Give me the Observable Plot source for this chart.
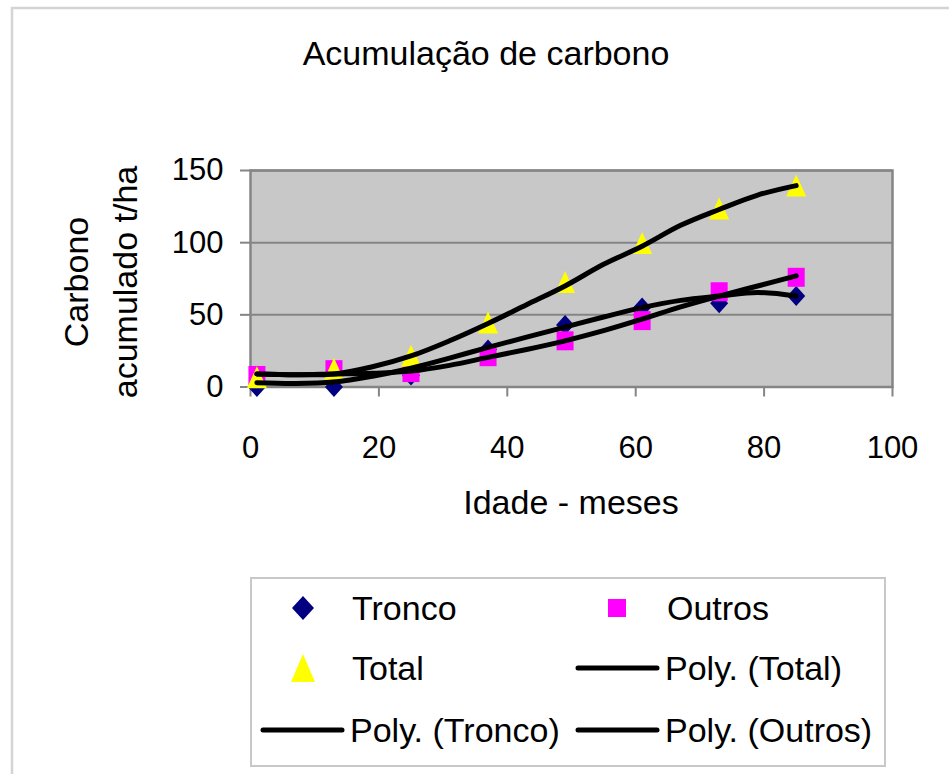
<!DOCTYPE html>
<html>
<head>
<meta charset="utf-8">
<script src="https://cdn.jsdelivr.net/npm/d3@7"></script>
<script src="https://cdn.jsdelivr.net/npm/@observablehq/plot@0.6"></script>
<style>
  html, body { margin: 0; padding: 0; background: #fff; }
  #wrap { position: relative; width: 949px; height: 774px; font-family: "Liberation Sans", Arial, sans-serif; }
  #wrap > svg { position: absolute; left: 0; top: 0; }
</style>
</head>
<body>
<div id="wrap"></div>
<script>
// ---- data ----
const meses = [1, 13, 25, 37, 49, 61, 73, 85];
const tronco = [0, 0, 8, 26, 43, 55, 58, 63];
const outros = [8, 12, 10, 21, 32, 46, 66, 76];
const total = [6, 12, 21, 44, 72, 99, 123, 139];

// trend lines
const mesesTend = [1, 7, 13, 19, 25, 31, 37, 43, 49, 55, 61, 67, 73, 79, 85];
const polyTotal = [9, 8.5, 9, 14, 21.5, 32, 44, 57, 70, 85, 97.5, 112, 123, 133, 139.5];
const polyTronco = [3, 2.5, 3.5, 7.5, 13, 20, 27.5, 34.5, 41.5, 48.5, 55, 60, 63, 65.5, 63];
const polyOutros = [9, 8.5, 9, 9.5, 11, 15, 20.5, 26, 32, 39, 47, 55.5, 63, 70, 77];

const xTicks = [0, 20, 40, 60, 80, 100];
const yTicks = [0, 50, 100, 150];

const titulo = "Acumulação de carbono";
const yLabel1 = "Carbono";
const yLabel2 = "acumulado t/ha";
const xLabel = "Idade - meses";
const legendLabels = ["Tronco", "Outros", "Total", "Poly. (Total)", "Poly. (Tronco)", "Poly. (Outros)"];

// ---- build tables ----
const pts = (vals, serie) => meses.map((m, i) => ({m, v: vals[i], serie}));
const trend = (vals, serie) => mesesTend.map((m, i) => ({m, v: vals[i], serie}));

// custom marker shapes (slightly taller than wide, like the reference)
const diamondSym = { draw(c) { c.moveTo(0, -10); c.lineTo(9, 0); c.lineTo(0, 10); c.lineTo(-9, 0); c.closePath(); } };
const squareSym = { draw(c) { c.moveTo(-8.5, -9.5); c.lineTo(8.5, -9.5); c.lineTo(8.5, 9.5); c.lineTo(-8.5, 9.5); c.closePath(); } };
const triSym = { draw(c) { c.moveTo(0, -12); c.lineTo(10, 10); c.lineTo(-10, 10); c.closePath(); } };

const font = "'Liberation Sans', Arial, sans-serif";

const chart = Plot.plot({
  width: 949,
  height: 774,
  marginLeft: 250,
  marginRight: 57,
  marginTop: 170,
  marginBottom: 387.5,
  style: { fontFamily: font, fontSize: "31px", background: "transparent", color: "black", overflow: "visible" },
  x: { domain: [0, 100] },
  y: { domain: [0, 150] },
  marks: [
    Plot.frame({ fill: "#c8c8c8" }),
    Plot.ruleY(yTicks, { stroke: "#858585", strokeWidth: 2 }),
    Plot.frame({ stroke: "#858585", strokeWidth: 2.5 }),
    Plot.axisX({ ticks: xTicks, tickSize: 10, tickPadding: 39, stroke: "#858585", strokeWidth: 2, fill: "black", label: null, tickFormat: d => String(d) }),
    Plot.axisY({ ticks: yTicks, tickSize: 10, tickPadding: 17, stroke: "#858585", strokeWidth: 2, fill: "black", label: null, tickFormat: d => String(d) }),
    Plot.dot(pts(tronco, "Tronco"), { x: "m", y: "v", symbol: () => diamondSym, r: 5, fill: "#000080", stroke: "none" }),
    Plot.dot(pts(outros, "Outros"), { x: "m", y: "v", symbol: () => squareSym, r: 5, fill: "#ff00ff", stroke: "none" }),
    Plot.dot(pts(total, "Total"), { x: "m", y: "v", symbol: () => triSym, r: 5, fill: "#ffff00", stroke: "none" }),
    Plot.line(trend(polyTotal, "Total"), { x: "m", y: "v", stroke: "black", strokeWidth: 5, curve: "catmull-rom" }),
    Plot.line(trend(polyTronco, "Tronco"), { x: "m", y: "v", stroke: "black", strokeWidth: 5, curve: "catmull-rom" }),
    Plot.line(trend(polyOutros, "Outros"), { x: "m", y: "v", stroke: "black", strokeWidth: 5, curve: "catmull-rom" })
  ]
});

const wrap = document.getElementById("wrap");

// background overlay (chart border) behind the plot
const bg = d3.create("svg").attr("width", 949).attr("height", 774);
bg.append("path").attr("d", "M12,774 V8 H949").attr("fill", "none").attr("stroke", "#d4d4d4").attr("stroke-width", 2.5);
wrap.appendChild(bg.node());
wrap.appendChild(chart);

// text + legend overlay
const ov = d3.create("svg").attr("width", 949).attr("height", 774)
  .style("font-family", font).style("pointer-events", "none");

ov.append("text").attr("x", 486).attr("y", 65).attr("text-anchor", "middle")
  .attr("font-size", 34).text(titulo);

ov.append("text").attr("transform", "translate(88,282) rotate(-90)").attr("text-anchor", "middle")
  .attr("font-size", 34).text(yLabel1);
ov.append("text").attr("transform", "translate(137,282) rotate(-90)").attr("text-anchor", "middle")
  .attr("font-size", 34).text(yLabel2);

ov.append("text").attr("x", 571).attr("y", 514).attr("text-anchor", "middle")
  .attr("font-size", 34).text(xLabel);

// legend
ov.append("rect").attr("x", 251).attr("y", 578).attr("width", 634).attr("height", 188)
  .attr("fill", "white").attr("stroke", "#c8c8c8").attr("stroke-width", 2);

const rowsY = [608, 668, 730];
const items = [
  { label: legendLabels[0], kind: "diamond", col: 0, row: 0 },
  { label: legendLabels[1], kind: "square", col: 1, row: 0 },
  { label: legendLabels[2], kind: "triangle", col: 0, row: 1 },
  { label: legendLabels[3], kind: "line", col: 1, row: 1 },
  { label: legendLabels[4], kind: "line", col: 0, row: 2 },
  { label: legendLabels[5], kind: "line", col: 1, row: 2 }
];
const colSym = [303, 617];
const colText = [352, 667];
const colLine = [[263, 342], [578, 657]];
for (const it of items) {
  const cy = rowsY[it.row];
  const cx = colSym[it.col];
  if (it.kind === "diamond") {
    ov.append("path").attr("d", `M${cx},${cy - 12}L${cx + 11},${cy}L${cx},${cy + 12}L${cx - 11},${cy}Z`).attr("fill", "#000080");
  } else if (it.kind === "square") {
    ov.append("rect").attr("x", cx - 9).attr("y", cy - 9).attr("width", 18).attr("height", 18).attr("fill", "#ff00ff");
  } else if (it.kind === "triangle") {
    ov.append("path").attr("d", `M${cx},${cy - 14}L${cx + 12},${cy + 14}L${cx - 12},${cy + 14}Z`).attr("fill", "#ffff00");
  } else {
    const [a, b] = colLine[it.col];
    ov.append("line").attr("x1", a).attr("x2", b).attr("y1", cy).attr("y2", cy)
      .attr("stroke", "black").attr("stroke-width", 5).attr("stroke-linecap", "round");
  }
  const tx = it.kind === "line" ? colLine[it.col][1] + 8 : colText[it.col];
  ov.append("text").attr("x", tx).attr("y", cy + 12).attr("font-size", 34).text(it.label);
}
wrap.appendChild(ov.node());
</script>
</body>
</html>
